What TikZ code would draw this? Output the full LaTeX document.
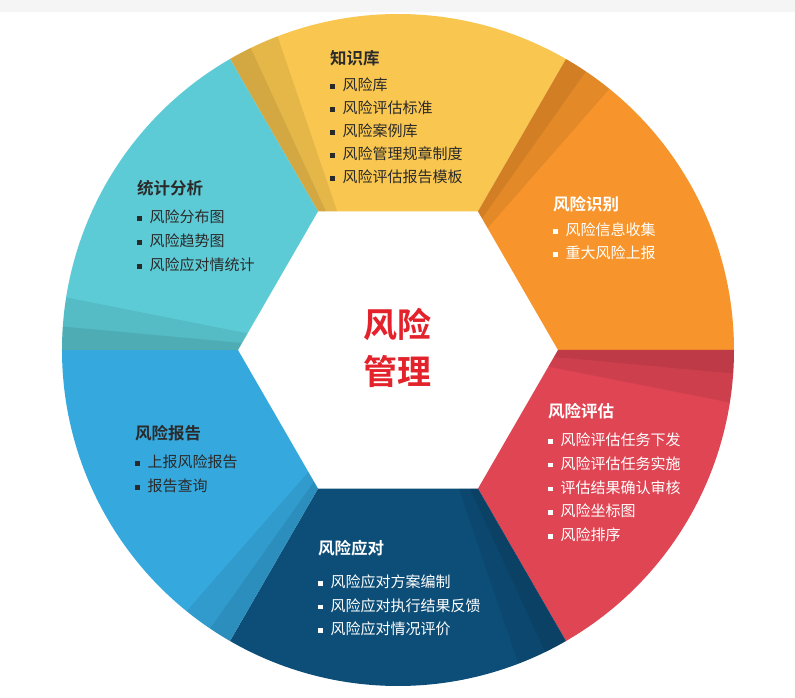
\documentclass[tikz,border=0pt]{standalone}
\usepackage{fontspec}
\setmainfont{Noto Sans CJK SC}
\newfontfamily\cjkb{Noto Sans CJK SC Bold}
\definecolor{cY}{HTML}{F9C750}
\definecolor{cO}{HTML}{F7952C}
\definecolor{cR}{HTML}{E04554}
\definecolor{cD}{HTML}{0D4E78}
\definecolor{cB}{HTML}{35A9DE}
\definecolor{cC}{HTML}{5DCBD6}
\definecolor{cT}{HTML}{E3222B}
\definecolor{cK}{HTML}{2A2A2A}
\newcommand\sect[3]{%
  \fill[#3] (#1:160) -- (#1:336) arc[start angle=#1,end angle=#2,radius=336] -- (#2:160) -- cycle;
  \fill[black,opacity=0.08] (#2:160) -- (#2:336) arc[start angle=#2,end angle=#2-9,radius=336] -- ($(#2:160)!0.12!(#1:160)$) -- cycle;
  \fill[black,opacity=0.08] (#2:160) -- (#2:336) arc[start angle=#2,end angle=#2-4,radius=336] -- ($(#2:160)!0.05!(#1:160)$) -- cycle;}
\newcommand\blk[5]{%
  \node[ttl,text=#4] (#1) at (#2,#3) {#5};}
\tikzset{ttl/.style={anchor=west,inner sep=0pt,font=\cjkb\fontsize{16.5}{18}\selectfont},
  itm/.style={anchor=west,inner sep=0pt,font=\fontsize{15}{17}\selectfont}}
\newcommand\bul{\rule[2pt]{4.5pt}{4.5pt}\hspace{8pt}}
\usetikzlibrary{calc}
\begin{document}
\begin{tikzpicture}[x=1pt,y=1pt]
\useasboundingbox (-398,-348) rectangle (397,350);
\fill[white] (-398,-348) rectangle (397,350);
\fill[black!4] (-398,338) rectangle (397,350);
\sect{60}{120}{cY}
\sect{0}{60}{cO}
\sect{-60}{0}{cR}
\sect{240}{300}{cD}
\sect{180}{240}{cB}
\sect{120}{180}{cC}
\node[font=\cjkb\fontsize{34}{47}\selectfont,text=cT,align=center] (ctr) at (0,2) {风险\\管理};
% blocks: x = px-398, y = 350-py
\blk{k}{-68}{292}{cK}{知识库}
\foreach \t [count=\i] in {风险库,风险评估标准,风险案例库,风险管理规章制度,风险评估报告模板}
  \node[itm,text=cK] (k\i) at (-68,{265-(\i-1)*23}) {\bul\t};
\blk{s}{-261}{162}{cK}{统计分析}
\foreach \t [count=\i] in {风险分布图,风险趋势图,风险应对情统计}
  \node[itm,text=cK] (s\i) at (-261,{133-(\i-1)*24}) {\bul\t};
\blk{r}{155}{146}{white}{风险识别}
\foreach \t [count=\i] in {风险信息收集,重大风险上报}
  \node[itm,text=white] (r\i) at (155,{120-(\i-1)*23}) {\bul\t};
\blk{p}{150}{-61}{white}{风险评估}
\foreach \t [count=\i] in {风险评估任务下发,风险评估任务实施,评估结果确认审核,风险坐标图,风险排序}
  \node[itm,text=white] (p\i) at (150,{-90-(\i-1)*23.7}) {\bul\t};
\blk{b}{-263}{-83}{cK}{风险报告}
\foreach \t [count=\i] in {上报风险报告,报告查询}
  \node[itm,text=cK] (b\i) at (-263,{-112-(\i-1)*24}) {\bul\t};
\blk{d}{-80}{-198}{white}{风险应对}
\foreach \t [count=\i] in {风险应对方案编制,风险应对执行结果反馈,风险应对情况评价}
  \node[itm,text=white] (d\i) at (-80,{-232-(\i-1)*23.5}) {\bul\t};
\end{tikzpicture}
\end{document}
